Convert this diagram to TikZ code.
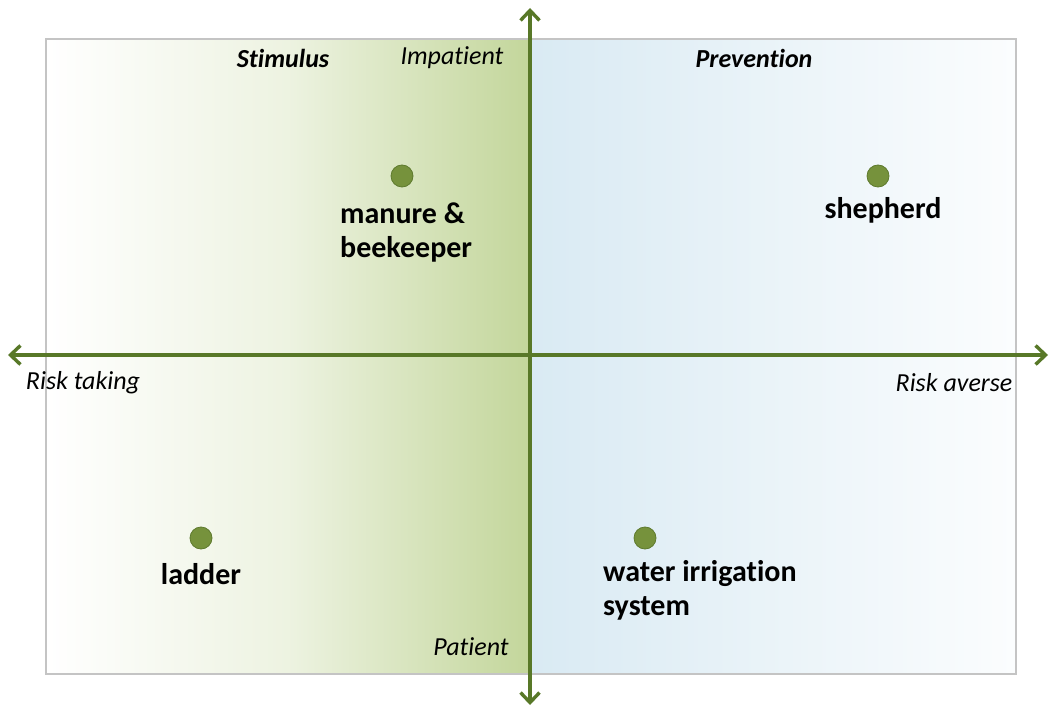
\documentclass[tikz,border=0pt]{standalone}
\usepackage{fontspec}
\setmainfont{Carlito}[Ligatures=NoCommon]
\usetikzlibrary{arrows.meta}
\definecolor{axisgreen}{HTML}{587828}
\definecolor{dotgreen}{HTML}{76923C}
\definecolor{dotedge}{HTML}{5E7A2E}
\definecolor{leafgreen}{HTML}{C3D69B}
\definecolor{skyblue}{HTML}{D9EAF3}
\definecolor{frame}{HTML}{C4C4C4}
\tikzset{
  axis/.style={draw=axisgreen, line width=3.6pt, {Straight Barb[length=10pt,width=19pt,line width=3.4pt]}-{Straight Barb[length=10pt,width=19pt,line width=3.4pt]}},
  dot/.style={circle, fill=dotgreen, draw=dotedge, line width=0.8pt, minimum size=22pt, inner sep=0pt},
  item/.style={font=\fontsize{30}{34}\selectfont\bfseries, text=black, inner sep=0pt},
  axislabel/.style={font=\fontsize{26}{30}\selectfont\itshape, text=black, inner sep=0pt},
  quadlabel/.style={font=\fontsize{26}{30}\selectfont\bfseries\itshape, text=black, inner sep=0pt}
}
\begin{document}
\begin{tikzpicture}[x=1pt,y=-1pt]
\useasboundingbox (0,0) rectangle (1051,708);
% background quadrants
\shade[left color=white, right color=leafgreen, middle color=leafgreen!30] (46,39) rectangle (530,674);
\shade[left color=skyblue, right color=skyblue!10] (530,39) rectangle (1016,674);
\draw[frame, line width=1.2pt] (46,39) rectangle (1016,674);
% axes
\coordinate (west) at (8,355);
\coordinate (east) at (1048,355);
\coordinate (north) at (530,8);
\coordinate (south) at (530,705);
\draw[axis] (west) -- (east);
\draw[axis] (south) -- (north);
% axis and quadrant labels
\node[quadlabel] (stim) at (283,58) {Stimulus};
\node[axislabel] (imp) at (452,58) {Impatient};
\node[quadlabel] (prev) at (754,58) {Prevention};
\node[axislabel] (rtake) at (83,383) {Risk taking};
\node[axislabel] (raverse) at (954,383) {Risk averse};
\node[axislabel] (pat) at (471,647) {Patient};
% items
\node[dot] (d1) at (402,176) {};
\node[item, align=left, anchor=west] (t1) at (340,233) {manure \&\\beekeeper};
\node[dot] (d2) at (878,176) {};
\node[item] (t2) at (883,210) {shepherd};
\node[dot] (d3) at (201,538) {};
\node[item] (t3) at (201,574) {ladder};
\node[dot] (d4) at (645,538) {};
\node[item, align=left, anchor=west] (t4) at (603,590) {water irrigation\\system};
\end{tikzpicture}
\end{document}
